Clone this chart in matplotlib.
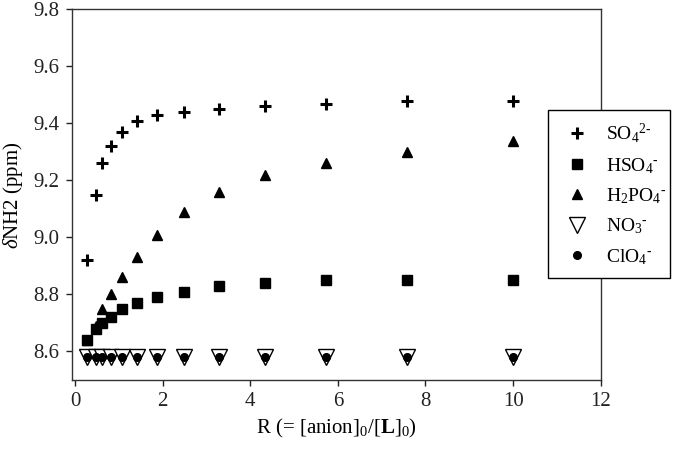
import matplotlib
matplotlib.use("Agg")
import matplotlib.pyplot as plt

plt.rcParams['font.family'] = ['Liberation Serif', 'DejaVu Serif']
plt.rcParams['mathtext.fontset'] = 'custom'
plt.rcParams['mathtext.rm'] = 'Liberation Serif'
plt.rcParams['mathtext.it'] = 'Liberation Serif:italic'
plt.rcParams['mathtext.bf'] = 'Liberation Serif:bold'

R = [0.27, 0.47, 0.61, 0.82, 1.07, 1.42, 1.87, 2.48, 3.28, 4.33, 5.72, 7.57, 10.0]
so4 = [8.92, 9.15, 9.26, 9.32, 9.37, 9.41, 9.43, 9.44, 9.45, 9.46, 9.47, 9.48, 9.48]
hso4 = [8.64, 8.68, 8.70, 8.72, 8.75, 8.77, 8.79, 8.81, 8.83, 8.84, 8.85, 8.85, 8.85]
h2po4 = [8.64, 8.69, 8.75, 8.80, 8.86, 8.93, 9.01, 9.09, 9.16, 9.22, 9.26, 9.30, 9.34]
no3 = [8.58] * 13
clo4 = [8.58] * 13

labels = ['SO$_4$$^{2\u2010}$', 'HSO$_4$$^{\u2010}$', 'H$_2$PO$_4$$^{\u2010}$',
          'NO$_3$$^{\u2010}$', 'ClO$_4$$^{\u2010}$']
xticks = [0, 2, 4, 6, 8, 10, 12]
yticks = [8.6, 8.8, 9.0, 9.2, 9.4, 9.6, 9.8]

fig = plt.figure(figsize=(6.75, 4.5), dpi=100)
ax = fig.add_axes([0.1062, 0.1556, 0.7837, 0.8234])

h1, = ax.plot(R, so4, linestyle='none', marker='+', ms=8, mew=2.2, color='black')
h2, = ax.plot(R, hso4, linestyle='none', marker='s', ms=6.5, color='black')
h3, = ax.plot(R, h2po4, linestyle='none', marker='^', ms=7.5, color='black')
h4, = ax.plot(R, no3, linestyle='none', marker='v', ms=11, mfc='white', mec='black', mew=1.0)
h5, = ax.plot(R, clo4, linestyle='none', marker='o', ms=5.5, color='black')

ax.set_xlim(-0.075, 12)
ax.set_ylim(8.5, 9.8)
ax.set_xticks(xticks)
ax.set_yticks(yticks)
ax.set_yticklabels([f'{v:.1f}' for v in yticks])
ax.tick_params(direction='out', length=4, width=1, labelsize=15, colors='#222222', pad=5)
for s in ax.spines.values():
    s.set_color('#333333')
    s.set_linewidth(1)

ax.set_xlabel(r'R (= [anion]$_0$/[$\mathbf{L}$]$_0$)', fontsize=15, labelpad=4)
ax.set_ylabel(r'$\delta$NH2 (ppm)', fontsize=15, labelpad=6)

leg = fig.legend([h1, h2, h3, h4, h5], labels,
                 loc='center', bbox_to_anchor=(0.812, 0.378, 0.181, 0.382),
                 mode='expand', borderaxespad=0, frameon=True, fancybox=False,
                 framealpha=1, edgecolor='black', fontsize=14, labelspacing=0.55,
                 handletextpad=0.6, borderpad=0.6, handlelength=1.8)
leg.get_frame().set_linewidth(1)

fig.savefig('out.png', dpi=100)
